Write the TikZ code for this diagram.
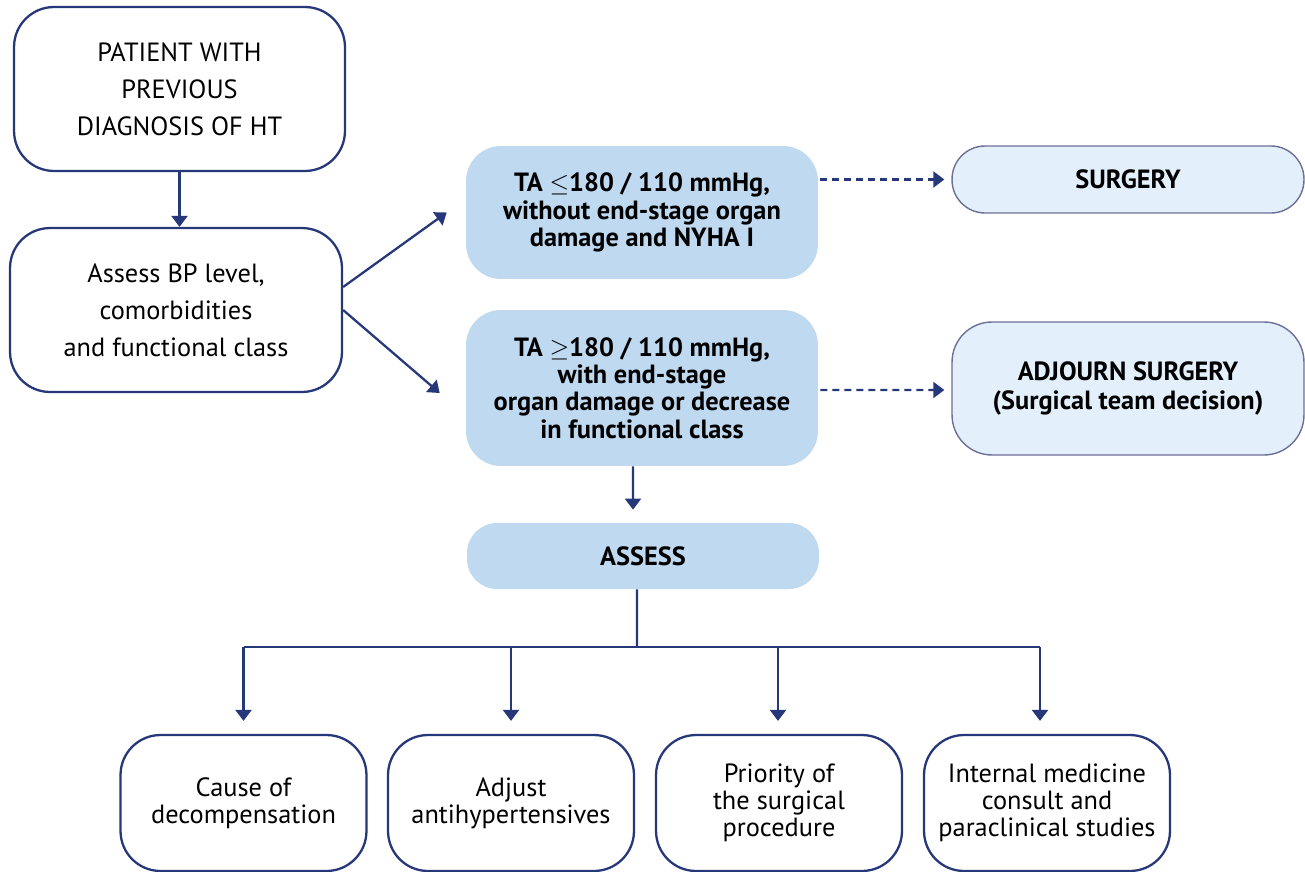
\documentclass[tikz,border=0pt]{standalone}
\usepackage{fontspec}
\setmainfont{PT Sans}
\usetikzlibrary{arrows.meta}
\definecolor{navy}{HTML}{26387A}
\definecolor{paleblue}{HTML}{BFD9F1}
\definecolor{iceblue}{HTML}{E3F0FC}
\definecolor{greyline}{HTML}{6C6F98}
\begin{document}
\begin{tikzpicture}[x=0.02cm,y=-0.02cm,
    whitebox/.style={draw=navy, line width=1.3pt, fill=white, rounded corners=0.8cm,
      align=center, font=\fontsize{15}{21}\selectfont, inner sep=0pt},
    leafbox/.style={draw=navy, line width=1.3pt, fill=white, rounded corners=0.8cm,
      align=center, font=\fontsize{15}{15.5}\selectfont, inner sep=0pt,
      minimum width=4.92cm, minimum height=2.72cm},
    bluebox/.style={fill=paleblue, rounded corners=0.7cm, align=center,
      font=\bfseries\fontsize{15}{15.5}\selectfont, inner sep=0pt, minimum width=7.04cm},
    icebox/.style={draw=greyline, line width=0.8pt, fill=iceblue, align=center,
      font=\bfseries\fontsize{15}{16.5}\selectfont, inner sep=0pt, minimum width=7.04cm},
    arr/.style={draw=navy, line width=1.3pt, -{Triangle[width=0.32cm,length=0.22cm]}},
    dotarr/.style={arr, dash pattern=on 0.14cm off 0.1cm},
    line/.style={draw=navy, line width=1.3pt}]

  \useasboundingbox (0,0) rectangle (1305,872);

  % left column
  \node[whitebox, minimum width=6.62cm, minimum height=3.28cm] (patient) at (179.5,89)
    {PATIENT WITH\\PREVIOUS\\DIAGNOSIS OF HT};
  \node[whitebox, minimum width=6.64cm, minimum height=3.28cm] (assessbp) at (176,310)
    {Assess BP level,\\comorbidities\\and functional class};

  % blood pressure ranges
  \node[bluebox, minimum height=2.66cm] (low) at (642,212.5)
    {TA $\leq$180 / 110 mmHg,\\without end-stage organ\\damage and NYHA I};
  \node[bluebox, minimum height=3.12cm] (high) at (642,388)
    {TA $\geq$180 / 110 mmHg,\\with end-stage\\organ damage or decrease\\in functional class};
  \node[bluebox, minimum height=1.32cm, rounded corners=0.6cm] (assess) at (643,556) {ASSESS};

  % decisions
  \node[icebox, minimum height=1.34cm, rounded corners=0.66cm] (surgery) at (1128,179.5) {SURGERY};
  \node[icebox, minimum height=2.66cm, rounded corners=0.8cm] (adjourn) at (1128,388.5)
    {ADJOURN SURGERY\\(Surgical team decision)};

  % what to assess
  \node[leafbox] (cause) at (243.5,803) {Cause of\\decompensation};
  \node[leafbox] (adjust) at (511,803) {Adjust\\antihypertensives};
  \node[leafbox] (priority) at (779,803) {Priority of\\the surgical\\procedure};
  \node[leafbox] (internal) at (1047,803) {Internal medicine\\consult and\\paraclinical studies};

  \coordinate (split) at (637,647);

  \draw[arr] (patient.south) -- (patient.south |- assessbp.north);
  \draw[arr] ([yshift=0.46cm]assessbp.east) -- ([xshift=-0.38cm]low.west);
  \draw[arr] (assessbp.east) -- ([xshift=-0.52cm,yshift=-0.1cm]high.west);
  \draw[dotarr] ([xshift=0.04cm]low.east |- surgery.west) -- ([xshift=-0.14cm]surgery.west);
  \draw[dotarr] ([xshift=0.04cm,yshift=-0.04cm]high.east) -- ([xshift=-0.14cm,yshift=-0.03cm]adjourn.west);
  \draw[arr] ([xshift=-0.18cm]high.south) -- ([xshift=-0.2cm,yshift=0.26cm]assess.north);

  \draw[line] ([xshift=-0.12cm]assess.south) -- (split);
  \draw[line] (cause.north |- split) -- ([xshift=-0.14cm]internal.north |- split);
  \foreach \leaf/\dx in {cause/0, adjust/0, priority/-0.02, internal/-0.14}
    \draw[arr] ([xshift=\dx cm]\leaf.north |- split) -- ([xshift=\dx cm,yshift=0.26cm]\leaf.north);

\end{tikzpicture}
\end{document}
